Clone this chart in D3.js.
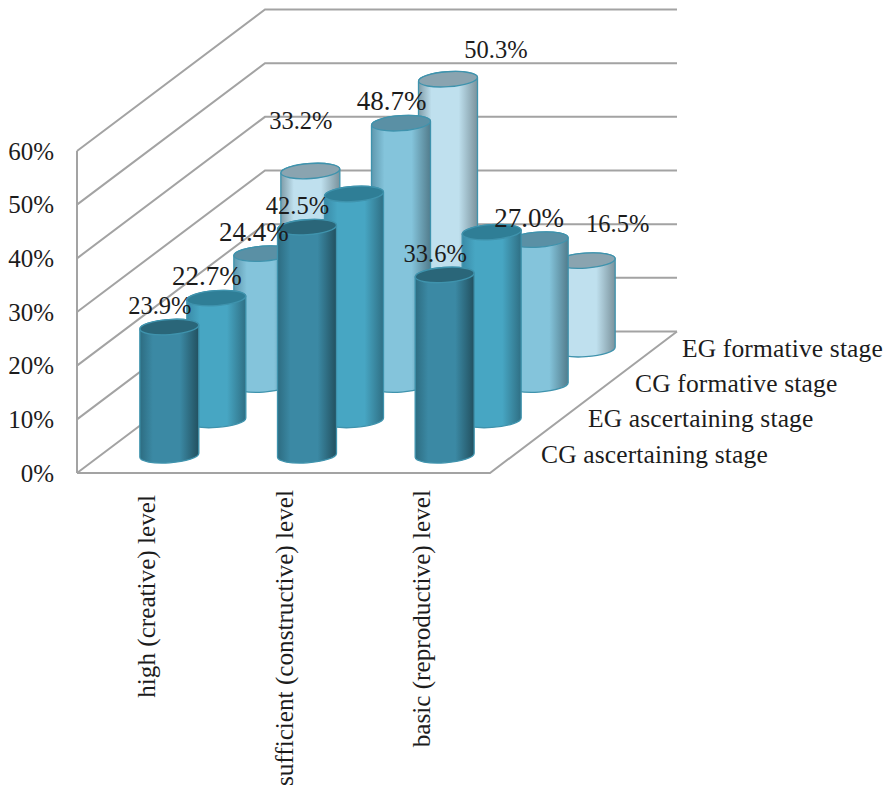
<!DOCTYPE html>
<html>
<head>
<meta charset="utf-8">
<script src="https://cdn.jsdelivr.net/npm/d3@7"></script>
<style>
    body { margin: 0; background: white; }
    text { font-family: "Liberation Serif", serif; fill: #1c1c1c; }
</style>
</head>
<body>
<svg id="chart" width="889" height="788"></svg>
<script>
const categories = ["high (creative) level", "sufficient (constructive) level", "basic (reproductive) level"];
const seriesNames = ["CG ascertaining stage", "EG ascertaining stage", "CG formative stage", "EG formative stage"];
const yTicks = [0, 10, 20, 30, 40, 50, 60];

const cgAscertaining = [23.9, 42.5, 33.6];
const egAscertaining = [22.7, 42.1, 35.0];
const cgFormative = [24.4, 48.7, 27.0];
const egFormative = [33.2, 50.3, 16.5];
const seriesValues = [cgAscertaining, egAscertaining, cgFormative, egFormative];

// the two EG ascertaining labels the picture does not show
const unlabelled = new Set(["1-1", "1-2"]);
// labels dragged away from their default place: "series-category": [dx, dy]
const labelNudge = {"3-0": [0, -29], "3-1": [57.5, -8], "3-2": [41.5, -16]};

// gradient stops left to right, then lid colour
const palette = [
    {edge: "#2d6c81", mid: "#3b89a4", far: "#22505f", lid: "#2a6679"},
    {edge: "#3a8ba7", mid: "#47a6c3", far: "#2f6f84", lid: "#2f7e96"},
    {edge: "#5f98ae", mid: "#84c4db", far: "#527c8c", lid: "#5a90a5"},
    {edge: "#7f9ca8", mid: "#bfe0ee", far: "#7a929c", lid: "#8aa4b0"}
];

const svg = d3.select("#chart");

const x = d3.scaleBand().domain(d3.range(categories.length)).range([77, 490]);
const depth = d3.scaleBand().domain(d3.range(seriesNames.length)).range([0, 1]);
const y = d3.scaleLinear().domain([0, 60]).range([473, 151]);
const shiftX = d3.scaleLinear().domain([0, 1]).range([0, 188]);
const shiftY = d3.scaleLinear().domain([0, 1]).range([0, -141.5]);

const RX = 29.5, RY = 7.5, TILT = 2;

const defs = svg.append("defs");
palette.forEach((p, i) => {
    let grad = defs.append("linearGradient").attr("id", `cyl${i}`);
    grad.append("stop").attr("offset", "0").attr("stop-color", p.edge);
    grad.append("stop").attr("offset", "0.22").attr("stop-color", p.mid);
    grad.append("stop").attr("offset", "0.68").attr("stop-color", p.mid);
    grad.append("stop").attr("offset", "1").attr("stop-color", p.far);
});

// walls and floor
const backX = shiftX(1), backY = shiftY(1);
const grid = svg.append("g").attr("fill", "none").attr("stroke", "#a3a3a3").attr("stroke-width", 2);
yTicks.forEach((t) => {
    grid.append("polyline")
        .attr("points", `77,${y(t)} ${77 + backX},${y(t) + backY} 677,${y(t) + backY}`);
});
grid.append("line").attr("x1", 77).attr("x2", 77).attr("y1", y(0)).attr("y2", y(60));
grid.append("polyline")
    .attr("points", `77,${y(0)} 490,${y(0)} ${490 + backX - 1},${y(0) + backY}`);

// y axis
const yAxis = svg.append("g")
    .attr("transform", "translate(54,0)")
    .call(d3.axisLeft(y).tickValues(yTicks).tickSize(0).tickPadding(0).tickFormat((d) => `${d}%`));
yAxis.select(".domain").remove();
yAxis.selectAll("text").attr("font-size", 25).style("font-family", '"Liberation Serif", serif');

// cylinders, back row first
function cylinder(cx, base, top) {
    const l = cx - RX, r = cx + RX;
    return `M${l},${top + TILT} L${l},${base + TILT} A${RX},${RY} -4 0 0 ${r},${base - TILT} `
        + `L${r},${top - TILT} A${RX},${RY} -4 0 0 ${l},${top + TILT} Z`;
}

const rows = d3.range(seriesNames.length).reverse();
const bars = svg.append("g");
rows.forEach((s) => {
    const d = depth(s) + depth.bandwidth() / 2;
    seriesValues[s].forEach((v, c) => {
        const cx = x(c) + x.bandwidth() / 2 + shiftX(d);
        const base = y(0) + shiftY(d);
        const top = y(v) + shiftY(d);
        bars.append("path")
            .attr("d", cylinder(cx, base, top))
            .attr("fill", `url(#cyl${s})`)
            .attr("stroke", "#3f93ad")
            .attr("stroke-width", 1.3);
        bars.append("ellipse")
            .attr("transform", `translate(${cx},${top}) rotate(-4)`)
            .attr("rx", RX).attr("ry", RY)
            .attr("fill", palette[s].lid)
            .attr("stroke", "#3f93ad")
            .attr("stroke-width", 1.3);
    });
});

// value labels sit over every bar
const labels = svg.append("g").attr("text-anchor", "middle");
seriesValues.forEach((vals, s) => {
    const d = depth(s) + depth.bandwidth() / 2;
    vals.forEach((v, c) => {
        if (unlabelled.has(`${s}-${c}`)) return;
        const nudge = labelNudge[`${s}-${c}`] || [0, 0];
        labels.append("text")
            .attr("x", x(c) + x.bandwidth() / 2 + shiftX(d) - 9.5 + nudge[0])
            .attr("y", y(v) + shiftY(d) - 13 + nudge[1])
            .attr("font-size", s === 1 || s === 2 ? 27 : 24.5)
            .text(`${v.toFixed(1)}%`);
    });
});

// series names along the floor edge
svg.append("g").selectAll("text").data(seriesNames).join("text")
    .attr("x", (d, i) => 490 + shiftX(depth(i) + depth.bandwidth() / 2) + 27.5)
    .attr("y", (d, i) => y(0) + shiftY(depth(i) + depth.bandwidth() / 2) + 7.5)
    .attr("font-size", 25.5)
    .attr("letter-spacing", 0.15)
    .text((d) => d);

// category names, rotated
svg.append("g").selectAll("text").data(categories).join("text")
    .attr("transform", (d, i) => `translate(${x(i) + x.bandwidth() / 2 + 9},${i === 0 ? 495 : 490}) rotate(-90)`)
    .attr("text-anchor", "end")
    .attr("font-size", 25.2)
    .text((d) => d);
</script>
</body>
</html>
